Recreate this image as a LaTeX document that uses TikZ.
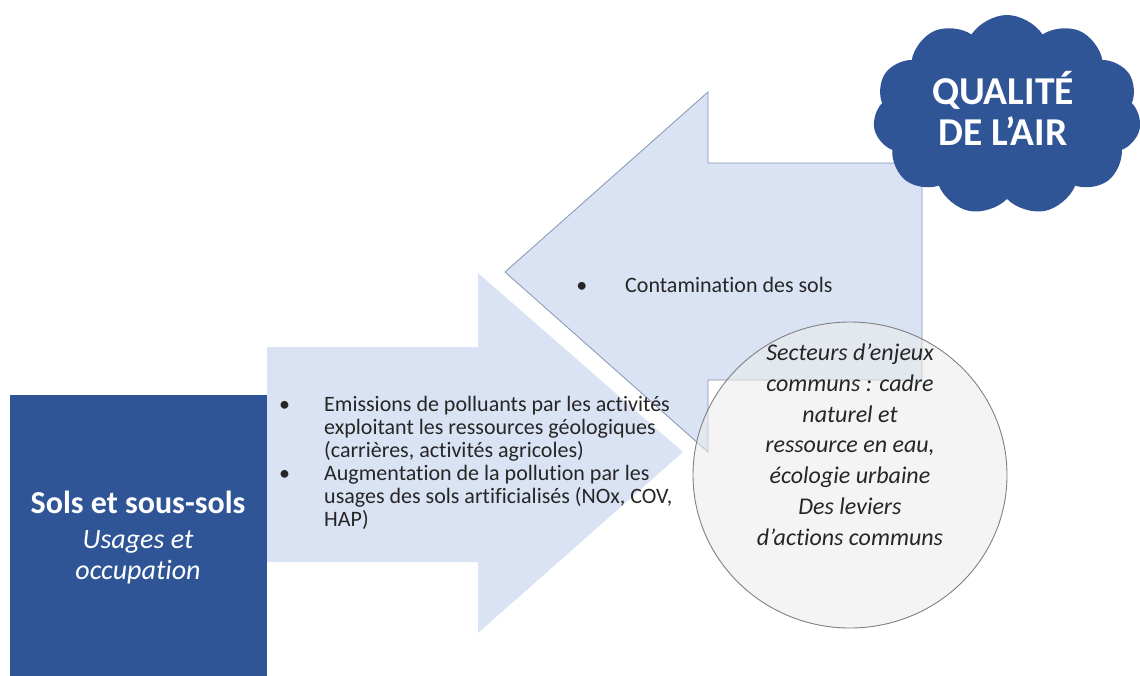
\documentclass[tikz,border=0pt]{standalone}
\usepackage{fontspec}
\setmainfont{Carlito}[Ligatures=NoCommon]
\usetikzlibrary{shapes.symbols,shapes.geometric}
\definecolor{dkblue}{HTML}{2F5597}
\definecolor{ltblue}{HTML}{DAE3F3}
\definecolor{arline}{HTML}{8496B0}
\begin{document}
\begin{tikzpicture}[x=1pt,y=-1pt,
	arw/.style={fill=ltblue},
	txt/.style={inner sep=0pt, font=\fontsize{22}{23}\selectfont, text=black!85, align=left},
	wht/.style={inner sep=0pt, text=white},
	cir/.style={inner sep=0pt, text=black!85, align=center, font=\fontsize{24}{30.7}\selectfont\itshape}]
\useasboundingbox (0,0) rectangle (1140,675);
% right arrow (sols -> air)
\fill[arw] (267,347) -- (478,347) -- (478,273) -- (683,452) -- (478,633) -- (478,562) -- (267,562) -- cycle;
% left arrow (air -> sols)
\filldraw[arw, draw=arline, line width=0.8pt] (922,163) -- (708,163) -- (708,92) -- (505,272) -- (708,452) -- (708,380) -- (922,380) -- cycle;
\fill[dkblue] (10,395) rectangle (267,680);
\node[wht, anchor=base, font=\fontsize{32}{36}\selectfont\bfseries] (sols) at (138,513) {Sols et sous-sols};
\node[wht, anchor=base, font=\fontsize{28}{32}\selectfont\itshape] (usg) at (138,548) {Usages et};
\node[wht, anchor=base, font=\fontsize{28}{32}\selectfont\itshape] (occ) at (138,579) {occupation};
\node[txt, anchor=base west] (emis) at (324,526)
	{\llap{\textbullet\hspace{34pt}}Emissions de polluants par les activités\\
	 exploitant les ressources géologiques\\
	 (carrières, activités agricoles)\\
	 \llap{\textbullet\hspace{34pt}}Augmentation de la pollution par les\\
	 usages des sols artificialisés (NOx, COV,\\
	 HAP)};
\node[txt, anchor=base west] (cont) at (625,292)
	{\llap{\textbullet\hspace{38pt}}Contamination des sols};
% secteurs communs
\node[ellipse, draw=black!50, line width=0.9pt, fill=black!8, fill opacity=0.55,
	minimum width=314, minimum height=306] (comm) at (850,475) {};
\node[cir, anchor=base] (commtxt) at (850,545)
	{Secteurs d’enjeux\\communs : cadre\\naturel et\\ressource en eau,\\écologie urbaine\\Des leviers\\d’actions communs};
% qualite de l'air
\node[cloud, cloud puffs=11, cloud puff arc=115, aspect=1.3, fill=dkblue,
	minimum width=268, minimum height=200] (air) at (1007,115) {};
\node[wht, align=center, anchor=base, font=\fontsize{39.5}{41}\selectfont\bfseries] (airtxt) at (1003,145)
	{QUALITÉ\\DE L’AIR};
\end{tikzpicture}
\end{document}
